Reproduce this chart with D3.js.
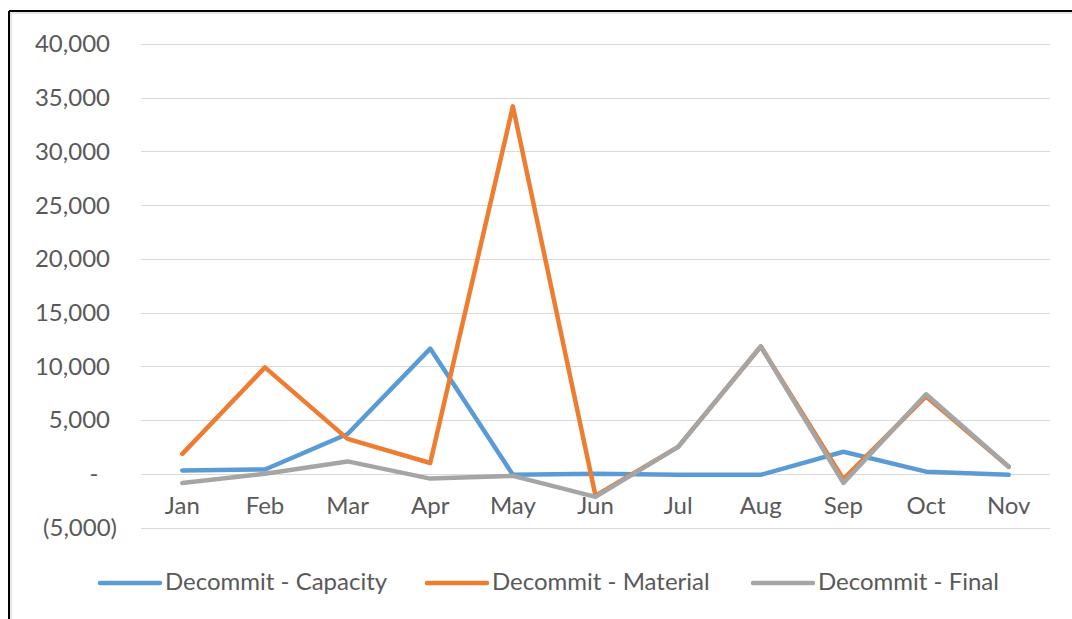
<!DOCTYPE html>
<html><head><meta charset="utf-8">
<script src="https://cdn.jsdelivr.net/npm/d3@7"></script>
<style>
html,body{margin:0;padding:0;background:#fff;}
svg{display:block;font-family:Lato,"Open Sans",sans-serif;}
</style></head>
<body>
<svg id="c" width="1072" height="619"></svg>
<script>
const months = ["Jan","Feb","Mar","Apr","May","Jun","Jul","Aug","Sep","Oct","Nov"];
const capacity = [300, 400, 3700, 11650, -100, 0, -100, -100, 2050, 200, -100];
const material = [1850, 9900, 3250, 1000, 34200, -2050, 2500, 11850, -500, 7200, 650];
const finalVals = [-850, 0, 1150, -450, -200, -2150, 2500, 11850, -850, 7400, 650];
const yTicks = [40000, 35000, 30000, 25000, 20000, 15000, 10000, 5000, 0, -5000];
const seriesNames = ["Decommit - Capacity", "Decommit - Material", "Decommit - Final"];
const colors = ["#5B9BD5", "#ED7D31", "#A5A5A5"];

const svg = d3.select("#c");
const x = d3.scaleBand().domain(months).range([141, 1050]);
const y = d3.scaleLinear().domain([-5000, 40000]).range([527.5, 44]);
const fs = 24;

// frame
svg.append("line").attr("x1",9).attr("x2",9).attr("y1",11).attr("y2",619).attr("stroke","#000").attr("stroke-width",2);
svg.append("line").attr("x1",9).attr("x2",1072).attr("y1",11).attr("y2",11).attr("stroke","#000").attr("stroke-width",2);
svg.append("line").attr("x1",11).attr("x2",11).attr("y1",13).attr("y2",619).attr("stroke","#ccc").attr("stroke-width",1);
svg.append("line").attr("x1",10).attr("x2",1072).attr("y1",13).attr("y2",13).attr("stroke","#ccc").attr("stroke-width",1);

// gridlines
svg.append("g").selectAll("line").data(yTicks).join("line")
  .attr("x1",141).attr("x2",1050)
  .attr("y1",d=>Math.round(y(d))+0.5).attr("y2",d=>Math.round(y(d))+0.5)
  .attr("stroke","#D9D9D9").attr("stroke-width",1);

// y labels (accounting format)
const fmt = d3.format(",");
svg.append("g").selectAll("text").data(yTicks).join("text")
  .attr("x", d => d === 0 ? 94 : (d < 0 ? 117 : 110))
  .attr("y", d => y(d))
  .attr("dy","0.35em")
  .attr("text-anchor", d => d === 0 ? "middle" : "end")
  .attr("fill","#595959").attr("font-size",fs)
  .text(d => d === 0 ? "-" : (d < 0 ? "(" + fmt(-d) + ")" : fmt(d)));

// x labels
svg.append("g").selectAll("text").data(months).join("text")
  .attr("x", d => x(d) + x.bandwidth()/2)
  .attr("y", 506).attr("dy","0.35em")
  .attr("text-anchor","middle")
  .attr("fill","#595959").attr("font-size",fs)
  .text(d => d);

// lines
const line = d3.line().x((d,i) => x(months[i]) + x.bandwidth()/2).y(d => y(d));
[capacity, material, finalVals].forEach((s,i) => {
  svg.append("path").datum(s).attr("d", line)
    .attr("fill","none").attr("stroke", colors[i]).attr("stroke-width",4.5)
    .attr("stroke-linejoin","round").attr("stroke-linecap","round");
});

// legend
const legX = [100, 427, 753];
const lg = svg.append("g");
seriesNames.forEach((n,i) => {
  lg.append("line").attr("x1",legX[i]).attr("x2",legX[i]+60).attr("y1",583).attr("y2",583)
    .attr("stroke",colors[i]).attr("stroke-width",4.5).attr("stroke-linecap","round");
  lg.append("text").attr("x",legX[i]+65).attr("y",582).attr("dy","0.35em")
    .attr("fill","#595959").attr("font-size",fs).text(n);
});
</script>
</body></html>
